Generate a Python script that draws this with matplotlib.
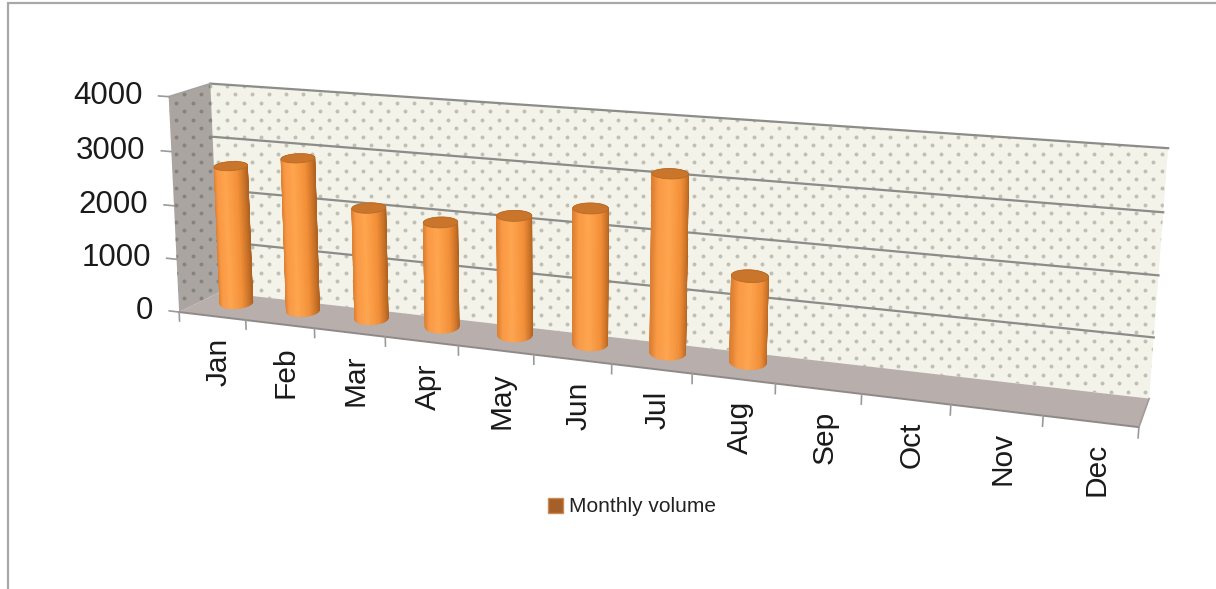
# -*- coding: utf-8 -*-
"""Monthly volume, 3D column chart with a fitted perspective camera."""
import numpy as np
import matplotlib
matplotlib.use('Agg')
import matplotlib.pyplot as plt
from matplotlib.collections import PolyCollection
from matplotlib.patches import Patch, Polygon, Rectangle

plt.rcParams['font.family'] = ['Liberation Sans', 'DejaVu Sans']

months = ['Jan', 'Feb', 'Mar', 'Apr', 'May', 'Jun', 'Jul', 'Aug', 'Sep', 'Oct', 'Nov', 'Dec']
volume = [2600, 2850, 2050, 1910, 2150, 2400, 3110, 1490]
value_ticks = [0, 1000, 2000, 3000, 4000]

# (month pos, value, depth) -> pixel, anchors read from the box corners
world_pts = np.array([
    (0, 0, 0), (0, 4000, 0), (0, 0, 1), (0, 4000, 1),
    (12, 4000, 1), (12, 0, 1), (12, 0, 0),
    (5, 0, 0), (8, 0, 0), (11, 0, 0),
    (0, 3000, 1), (0, 1000, 1), (12, 3000, 1), (12, 1000, 1),
], dtype=float)
pixel_pts = np.array([
    (182, 313), (167, 95), (218, 293), (213, 83),
    (1168, 150), (1150, 395), (1140, 428),
    (533, 353), (775, 384), (1042, 417),
    (212, 137), (216, 242), (1163, 213), (1154, 337),
], dtype=float)


def fit_camera(world, pix):
    rows, rhs = [], []
    for (m, v, d), (px, py) in zip(world, pix):
        rows.append([m, v, d, 1, 0, 0, 0, 0, -px * m, -px * v, -px * d])
        rows.append([0, 0, 0, 0, m, v, d, 1, -py * m, -py * v, -py * d])
        rhs += [px, py]
    # scale the columns, values are in the thousands
    a = np.array(rows)
    s = np.abs(a).max(axis=0)
    sol = np.linalg.lstsq(a / s, np.array(rhs), rcond=None)[0] / s
    return np.append(sol, 1.0).reshape(3, 4)


CAM = fit_camera(world_pts, pixel_pts)


def project(m, v, d):
    m, v, d = np.broadcast_arrays(m, v, d)
    pts = np.stack([m, v, d, np.ones_like(m, dtype=float)], axis=-1) @ CAM.T
    return pts[..., :2] / pts[..., 2:]


fig = plt.figure(figsize=(12.16, 5.89), dpi=100)
ax = fig.add_axes([0, 0, 1, 1])
ax.set_xlim(0, 1216)
ax.set_ylim(589, 0)
ax.axis('off')

# outer chart border
ax.add_patch(Rectangle((8, 3), 1300, 700, fc='white', ec='#a8a8a8', lw=1.6))

grid_col = '#8c8c88'
M_MAX = len(months)
V_MAX = value_ticks[-1]


def dotted(poly, dot_col, size):
    # staggered dot texture of the wall fill, clipped to the wall
    ys = np.arange(60, 420, 8.5)
    xs, yy = [], []
    for row, y in enumerate(ys):
        cols = np.arange(150 + (row % 2) * 8.5, 1180, 17)
        xs.append(cols)
        yy.append(np.full_like(cols, y))
    sc = ax.scatter(np.concatenate(xs), np.concatenate(yy), s=size, c=dot_col,
                    linewidths=0, zorder=1.5)
    sc.set_clip_path(poly)


# walls and floor
back = Polygon(project([0, M_MAX, M_MAX, 0], [0, 0, V_MAX, V_MAX], 1),
               fc='#f3f3ea', lw=0, zorder=1)
ax.add_patch(back)
dotted(back, '#bfbfb4', 8)
side = Polygon(project(0, [0, 0, V_MAX, V_MAX], [0, 1, 1, 0]),
               fc='#aaa5a1', lw=0, zorder=1)
ax.add_patch(side)
dotted(side, '#86837f', 8)
floor = project([0, M_MAX, M_MAX, 0], 0, [0, 0, 1, 1])
ax.add_patch(Polygon(floor, fc='#b8aeac', ec='none', zorder=1))

# gridlines on the back wall and side wall
for v in value_ticks[1:]:
    p = project([0, M_MAX], v, 1)
    ax.plot(p[:, 0], p[:, 1], color=grid_col, lw=1.6, zorder=2)
p = project(0, V_MAX, [0, 1])
ax.plot(p[:, 0], p[:, 1], color='#a5a29e', lw=1.2, zorder=2)
e = project([0, M_MAX], 0, 0)
ax.plot(e[:, 0], e[:, 1], color='#8f8a88', lw=1.4, zorder=2)
e = project(M_MAX, 0, [0, 1])
ax.plot(e[:, 0], e[:, 1], color='#a09a98', lw=1.2, zorder=2)

# value axis: ticks and labels
for v in value_ticks:
    p = project([-0.15, 0], v, 0)
    ax.plot(p[:, 0], p[:, 1], color='#9a9a9a', lw=1.2, zorder=2)
    ax.annotate(str(v), xy=p[0], xytext=(-16, 0), textcoords='offset pixels',
                ha='right', va='center', fontsize=22.5, color='#1a1a1a')

# month axis: ticks and labels
for i in range(M_MAX + 1):
    p = project(i, [0, -170], 0)
    ax.plot(p[:, 0], p[:, 1], color='#9a9a9a', lw=1.2, zorder=2)
for i, name in enumerate(months):
    p = project(i + 0.5, 0, 0)
    ax.annotate(name, xy=p, xytext=(6, -22), textcoords='offset pixels',
                ha='center', va='top', rotation=90, fontsize=21.5, color='#1a1a1a')

# cylinders
R_M = 0.19
R_D = 0.25
D_MID = 0.64
SKEW = 0.5  # keeps the end ellipses level on screen
TILT = 0.1
angles = np.linspace(0, 2 * np.pi, 65)
stops_u = [-1.0, -0.75, -0.2, 0.45, 0.85, 1.0]
stops_rgb = np.array([
    (0.86, 0.50, 0.20), (0.98, 0.60, 0.27), (1.00, 0.65, 0.31),
    (0.95, 0.56, 0.22), (0.78, 0.44, 0.15), (0.68, 0.38, 0.13)])

for i, val in enumerate(volume):
    mc = i + 0.48
    ms = mc + R_M * np.cos(angles) - SKEW * R_D * np.sin(angles)
    ds = D_MID + R_D * np.sin(angles) + TILT * np.cos(angles)
    bottom = project(ms, 0, ds)
    top = project(ms, val, ds)
    quads, cols = [], []
    mid = (angles[:-1] + angles[1:]) / 2
    order = np.argsort(-np.sin(mid))
    for k in order:
        quads.append([bottom[k], bottom[k + 1], top[k + 1], top[k]])
        u = np.cos(mid[k])
        cols.append([np.interp(u, stops_u, stops_rgb[:, c]) for c in range(3)])
    strips = PolyCollection(quads, facecolors=cols, edgecolors=cols,
                            linewidths=0.4, zorder=3 + i * 0.01)
    strips.set_snap(False)
    ax.add_collection(strips)
    ax.add_patch(Polygon(top, fc='#c9762c', ec='#b96a25', lw=0.6, zorder=3.5 + i * 0.01))

# legend
handle = Patch(fc='#a5602a', ec='#c98a55', label='Monthly volume')
ax.legend(handles=[handle], loc='center left', bbox_to_anchor=(529, 507),
          bbox_transform=ax.transData, frameon=False, fontsize=15,
          handlelength=0.75, handleheight=0.75, handletextpad=0.25,
          labelcolor='#222222')

fig.savefig('out.png', dpi=100)
